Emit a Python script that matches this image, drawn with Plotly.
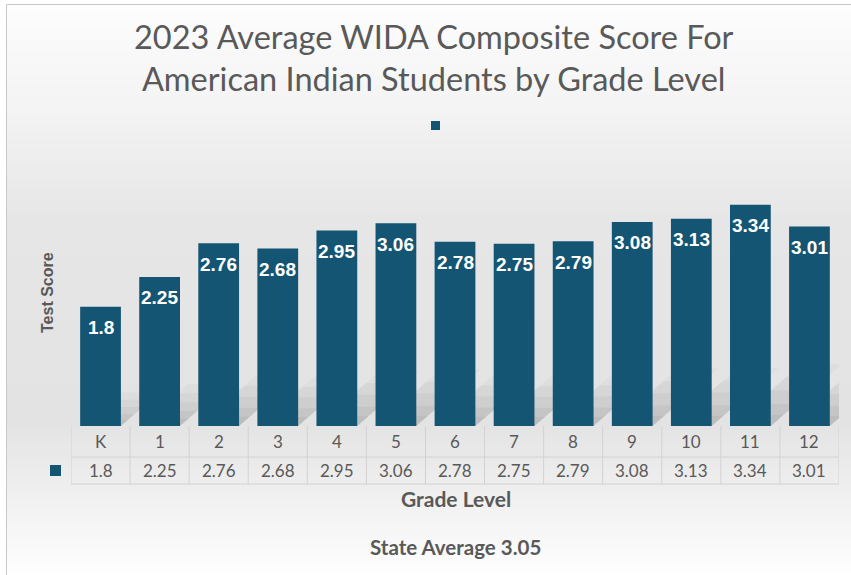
import plotly.graph_objects as go

# ---- data ----
grades = ["K", "1", "2", "3", "4", "5", "6", "7", "8", "9", "10", "11", "12"]
scores = [1.8, 2.25, 2.76, 2.68, 2.95, 3.06, 2.78, 2.75, 2.79, 3.08, 3.13, 3.34, 3.01]
score_labels = ["1.8", "2.25", "2.76", "2.68", "2.95", "3.06", "2.78", "2.75", "2.79", "3.08", "3.13", "3.34", "3.01"]
title_text = "2023 Average WIDA Composite Score For<br>American Indian Students by Grade Level"
y_title = "Test Score"
x_title = "Grade Level"
footer = "State Average 3.05"

# ---- geometry (pixels) ----
W, H = 851, 575
PL, PR, PT, PB = 71, 839, 161, 426
YMAX = 4.0
N = len(grades)
COLW = (PR - PL) / N

def py(p):  # pixel y -> paper y
    return (PB - p) / (PB - PT)

def pxp(p):  # pixel x -> paper x
    return (p - PL) / (PR - PL)

def pxd(p):  # pixel x -> data x
    return -0.5 + (p - PL) / COLW

BAR = "#155574"
GRID = "#d2d2d2"
TXT = "#595959"
NARROW = "Lato"

xs = list(range(N))

fig = go.Figure()
fig.add_trace(go.Bar(x=xs, y=scores, width=0.69, marker=dict(color=BAR, line=dict(width=0)),
                     hoverinfo="skip", showlegend=False))

shapes = []
# background gradient (stripes)
stops = [(5, (253, 253, 253)), (120, (242, 242, 242)), (220, (230, 230, 230)),
         (420, (227, 227, 227)), (480, (237, 237, 237)), (575, (254, 254, 254))]

def col_at(y):
    for (y0, c0), (y1, c1) in zip(stops[:-1], stops[1:]):
        if y0 <= y <= y1:
            t = (y - y0) / (y1 - y0)
            return tuple(round(a + (b - a) * t) for a, b in zip(c0, c1))
    return stops[-1][1]

y = 5
while y < H:
    c = col_at(y + 2.5)
    shapes.append(dict(type="rect", xref="paper", yref="paper", layer="below",
                       x0=pxp(7), x1=pxp(W), y0=py(y), y1=py(min(y + 5, H)),
                       line=dict(width=0), fillcolor="rgb(%d,%d,%d)" % c))
    y += 5

# frame
shapes.append(dict(type="rect", xref="paper", yref="paper", layer="below",
                   x0=pxp(6.5), x1=pxp(W + 5), y0=py(4.5), y1=py(H + 5),
                   line=dict(color="#c8c8c8", width=1), fillcolor="rgba(0,0,0,0)"))

# perspective shadows behind bars (soft, fading)
for i, v in enumerate(scores):
    hpx = v * (PB - PT) / YMAX
    for frac, op in [(0.28, 0.03), (0.22, 0.04), (0.16, 0.05), (0.10, 0.06), (0.05, 0.06)]:
        dy = hpx * frac
        dx = dy * 1.15 / COLW
        dyd = dy * YMAX / (PB - PT)
        xl, xr = i - 0.345, i + 0.345
        path = "M %f,0 L %f,0 L %f,%f L %f,%f Z" % (xl, xr, xr + dx, dyd, xl + dx, dyd)
        shapes.append(dict(type="path", xref="x", yref="y", layer="below", path=path,
                           line=dict(width=0), fillcolor="rgba(60,60,60,%f)" % op))

# data table lines
ytop, ymid, ybot = py(426), py(457), py(484)
for i in range(N + 1):
    shapes.append(dict(type="line", xref="x", yref="paper", x0=-0.5 + i, x1=-0.5 + i,
                       y0=ytop, y1=ybot, line=dict(color=GRID, width=1)))
shapes.append(dict(type="line", xref="x", yref="paper", x0=pxd(42), x1=pxd(42),
                   y0=ymid, y1=ybot, line=dict(color=GRID, width=1)))
for yy in (ymid, ybot):
    shapes.append(dict(type="line", xref="x", yref="paper", x0=pxd(42), x1=12.5,
                       y0=yy, y1=yy, line=dict(color=GRID, width=1)))
# legend key in table
shapes.append(dict(type="rect", xref="paper", yref="paper", x0=pxp(50), x1=pxp(61),
                   y0=py(465), y1=py(476), line=dict(width=0), fillcolor=BAR))
# legend key at top
shapes.append(dict(type="rect", xref="paper", yref="paper", x0=pxp(431), x1=pxp(440),
                   y0=py(121), y1=py(130), line=dict(width=0), fillcolor=BAR))

ann = []
# bar labels
for i, (v, s) in enumerate(zip(scores, score_labels)):
    ann.append(dict(x=i, y=v, xref="x", yref="y", text="<b>%s</b>" % s, showarrow=False,
                    yanchor="middle", yshift=-21,
                    font=dict(family="Liberation Sans", size=19, color="white")))
# table text
for i, (g, s) in enumerate(zip(grades, score_labels)):
    ann.append(dict(x=i, y=py(441), xref="x", yref="paper", text=g, showarrow=False,
                    yanchor="middle", font=dict(family=NARROW, size=17, color=TXT)))
    ann.append(dict(x=i, y=py(470), xref="x", yref="paper", text=s, showarrow=False,
                    yanchor="middle", font=dict(family=NARROW, size=17, color=TXT)))
# titles
ann.append(dict(x=pxp(434), y=py(57), xref="paper", yref="paper", text=title_text, showarrow=False,
                yanchor="middle", align="center",
                font=dict(family=NARROW, size=32.5, color=TXT)))
ann.append(dict(x=pxp(47), y=py(293), xref="paper", yref="paper", text="<b>%s</b>" % y_title,
                showarrow=False, textangle=-90, xanchor="center", yanchor="middle",
                font=dict(family="Liberation Sans", size=16, color=TXT)))
ann.append(dict(x=pxp(456), y=py(498), xref="paper", yref="paper", text="<b>%s</b>" % x_title,
                showarrow=False, yanchor="middle",
                font=dict(family=NARROW, size=21, color=TXT)))
ann.append(dict(x=pxp(455), y=py(547), xref="paper", yref="paper", text="<b>%s</b>" % footer,
                showarrow=False, yanchor="middle",
                font=dict(family=NARROW, size=20.5, color=TXT)))

fig.update_layout(
    width=W, height=H,
    margin=dict(l=PL, r=W - PR, t=PT, b=H - PB, pad=0),
    paper_bgcolor="white", plot_bgcolor="rgba(0,0,0,0)",
    xaxis=dict(range=[-0.5, N - 0.5], showticklabels=False, showgrid=False, zeroline=False,
               showline=False, ticks=""),
    yaxis=dict(range=[0, YMAX], showticklabels=False, showgrid=False, zeroline=False,
               showline=False, ticks=""),
    shapes=shapes, annotations=ann, showlegend=False,
    bargap=0.3,
)

fig.write_html("out.html", config={"displayModeBar": False},
               post_script="document.body.style.margin='0';document.body.style.overflow='hidden';")
